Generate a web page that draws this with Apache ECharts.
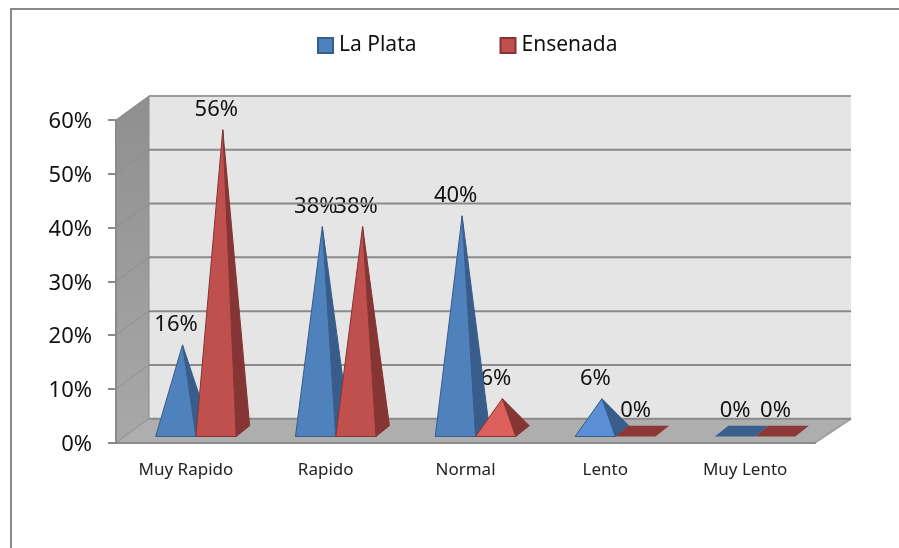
<!DOCTYPE html>
<html>
<head>
<meta charset="utf-8">
<style>html,body{margin:0;padding:0;background:#fff}#c{width:899px;height:548px}</style>
<script src="https://cdn.jsdelivr.net/npm/echarts@6/dist/echarts.min.js"></script>
</head>
<body>
<div id="c"></div>
<script>
const categories = ['Muy Rapido', 'Rapido', 'Normal', 'Lento', 'Muy Lento'];
const laPlata = [0.16, 0.38, 0.40, 0.06, 0];
const ensenada = [0.56, 0.38, 0.06, 0, 0];
const yTicks = [0, 0.1, 0.2, 0.3, 0.4, 0.5, 0.6];

const FONT = '"Noto Sans", sans-serif';
const DEPTH = [33, -24];
const palette = {
  blue: {front: '#4F81BD', light: '#5A8FD6', side: '#385D8A', flat: '#3A5F8E'},
  red: {front: '#C0504D', light: '#DC5F5B', side: '#843534', flat: '#8C3836'}
};
const pct = v => Math.round(v * 100) + '%';
const chart = echarts.init(document.getElementById('c'));

function pts(list, s) { return {shape: {points: list}, style: s}; }

function renderWalls(params, api) {
  const cs = params.coordSys, z = api.coord([0, 0]), t = api.coord([0, 0.6]);
  const l = cs.x, r = cs.x + cs.width, by = z[1], ty = t[1];
  const dx = DEPTH[0], dy = DEPTH[1];
  return {type: 'group', children: [
    Object.assign({type: 'polygon'}, pts([[l + dx, ty + dy], [r + 36, ty + dy], [r + 36, by + dy], [l + dx, by + dy]], {fill: '#E5E5E5'})),
    Object.assign({type: 'polygon'}, pts([[l, ty], [l + dx, ty + dy], [l + dx, by + dy], [l, by]], {
      fill: new echarts.graphic.LinearGradient(0, 0, 0, 1, [{offset: 0, color: '#8F8F8F'}, {offset: 1, color: '#A8A8A8'}]),
      stroke: '#8A8A8A', lineWidth: 1})),
    Object.assign({type: 'polygon'}, pts([[l, by], [l + dx, by + dy], [r + 36, by + dy], [r, by]], {fill: '#AEAEAE'})),
    {type: 'line', shape: {x1: r, y1: by, x2: r + 36, y2: by + dy}, style: {stroke: '#A0A0A0', lineWidth: 2}}
  ]};
}

function renderGrid(params, api) {
  const cs = params.coordSys, p = api.coord([0, api.value(1)]);
  const l = cs.x, r = cs.x + cs.width + 36, top = api.value(1) === 0.6;
  return {type: 'group', children: [
    {type: 'line', shape: {x1: l, y1: p[1], x2: l + DEPTH[0], y2: p[1] + DEPTH[1]}, style: {stroke: '#858585', lineWidth: 1, opacity: 0.6}},
    {type: 'line', shape: {x1: l + DEPTH[0], y1: p[1] + DEPTH[1], x2: r, y2: p[1] + DEPTH[1]}, style: {stroke: top ? '#9C9C9C' : '#8A8A8A', lineWidth: 2}}
  ]};
}

function geometry(api, sign) {
  const idx = api.value(0), v = api.value(1);
  const base = api.coord([idx, 0]), top = api.coord([idx, v]);
  const w = api.size([1, 0])[0] * 0.288;
  const xL = base[0] + 10 + (sign < 0 ? -w : 0), xR = xL + w, yF = base[1] - 6.2;
  const back = [13.5, -10.8];
  const apex = [xL + (w + back[0]) / 2, top[1] - 11.7];
  return {v, w, xL, xR, yF, back, apex};
}

function renderPyramid(color, sign) {
  return function (params, api) {
    const g = geometry(api, sign), c = palette[color];
    const fl = [g.xL, g.yF], fr = [g.xR, g.yF];
    const br = [g.xR + g.back[0], g.yF + g.back[1]], bl = [g.xL + g.back[0], g.yF + g.back[1]];
    if (g.v === 0) {
      return Object.assign({type: 'polygon'}, pts([fl, fr, br, bl], {fill: c.flat}));
    }
    const fill = g.v < 0.1 ? c.light : c.front;
    return {type: 'group', children: [
      Object.assign({type: 'polygon'}, pts([fr, br, g.apex], {fill: c.side, stroke: c.side, lineWidth: 1})),
      Object.assign({type: 'polygon'}, pts([fl, fr, g.apex], {fill: fill, stroke: c.side, lineWidth: 1}))
    ]};
  };
}

function renderLabel(sign) {
  return function (params, api) {
    const g = geometry(api, sign);
    return {type: 'text', style: {
      text: pct(g.v), x: g.apex[0] - 6.5, y: g.apex[1] - 20,
      align: 'center', verticalAlign: 'middle', font: '22px ' + FONT, fill: '#111'
    }};
  };
}

const rows = a => a.map((v, i) => [i, v]);
const custom = (name, data, z, renderItem) => ({
  type: 'custom', name, data, z, renderItem, silent: true,
  encode: {x: 0, y: 1}, animation: false
});

chart.setOption({
  animation: false,
  backgroundColor: '#fff',
  graphic: [{type: 'polyline', silent: true, z: 0,
    shape: {points: [[11, 548], [11, 9], [899, 9]]},
    style: {fill: 'none', stroke: '#8A8A8A', lineWidth: 2}}],
  legend: {
    left: 312, top: 30, icon: 'rect', itemWidth: 15, itemHeight: 15, itemGap: 83,
    selectedMode: false,
    textStyle: {fontFamily: FONT, fontSize: 21, color: '#111', padding: [0, 0, 0, 1]},
    data: [
      {name: 'La Plata', itemStyle: {color: '#4F81BD', borderColor: '#385D8A', borderWidth: 2}},
      {name: 'Ensenada', itemStyle: {color: '#C0504D', borderColor: '#843534', borderWidth: 2}}
    ]
  },
  grid: {left: 116, right: 84, top: 120, bottom: 105.3, containLabel: false},
  xAxis: {
    type: 'category', data: categories, z: 5,
    axisLine: {lineStyle: {color: '#8A8A8A', width: 2}},
    axisTick: {length: 5, lineStyle: {color: '#8A8A8A', width: 2}},
    axisLabel: {fontFamily: FONT, fontSize: 17, color: '#222', margin: 19, interval: 0}
  },
  yAxis: {
    type: 'value', min: 0, max: 0.6, interval: 0.1, z: 5,
    axisLine: {show: true, lineStyle: {color: '#8A8A8A', width: 2}},
    axisTick: {show: true, length: 8, lineStyle: {color: '#8A8A8A', width: 2}},
    splitLine: {show: false},
    axisLabel: {fontFamily: FONT, fontSize: 22, color: '#111', margin: 24, lineHeight: 22, verticalAlign: 'top', padding: [-9, 0, 0, 0], formatter: v => pct(v)}
  },
  series: [
    custom('walls', [[0, 0]], 1, renderWalls),
    custom('La Plata', rows(laPlata), 2, renderLabel(-1)),
    custom('Ensenada', rows(ensenada), 2, renderLabel(1)),
    custom('grid', yTicks.map(v => [0, v]), 3, renderGrid),
    custom('La Plata', rows(laPlata), 4, renderPyramid('blue', -1)),
    custom('Ensenada', rows(ensenada), 4.5, renderPyramid('red', 1))
  ]
});
</script>
</body>
</html>
